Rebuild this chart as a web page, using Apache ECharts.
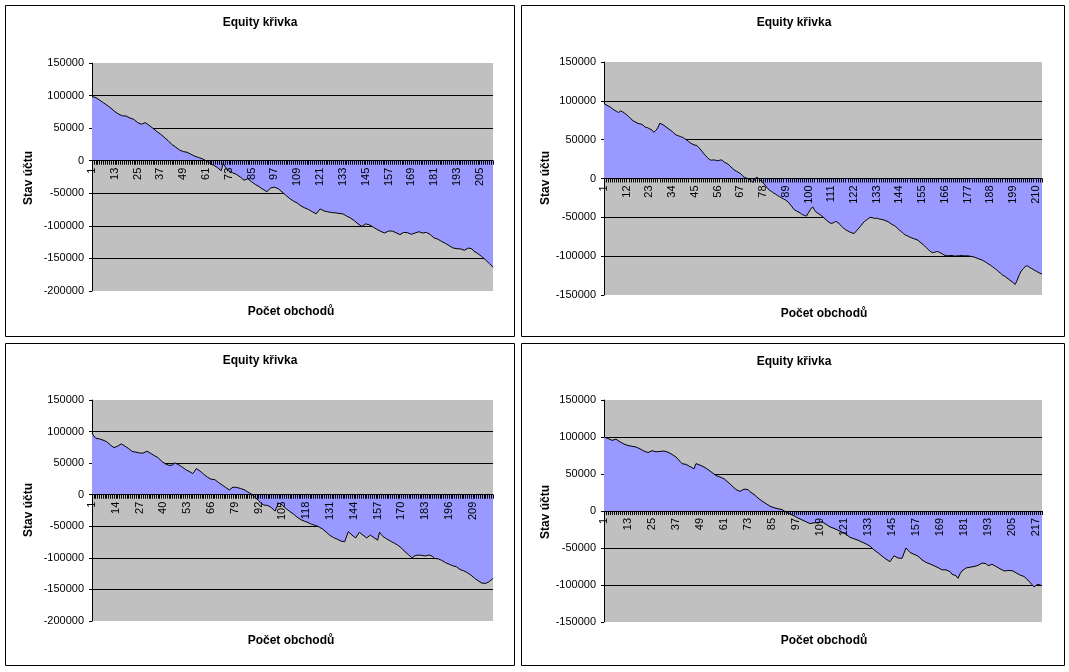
<!DOCTYPE html>
<html>
<head>
<meta charset="utf-8">
<script src="https://cdn.jsdelivr.net/npm/echarts@6/dist/echarts.min.js"></script>
<style>
html,body{margin:0;padding:0;background:#fff;}
#c{width:1069px;height:672px;}
</style>
</head>
<body>
<div id="c"></div>
<script>
const chartTitle = "Equity křivka";
const yTitle = "Stav účtu";
const xTitle = "Počet obchodů";

const equity1 = [
98500,97500,97000,95000,93000,91000,89000,87500,85000,83000,
80500,78000,75500,73500,71500,70000,69000,68000,68500,66500,
65500,64000,63500,61000,58500,55500,56000,57500,58500,57000,
54500,52000,50000,47500,45000,43500,41000,38500,36000,33500,
31000,28500,25000,22500,21000,18500,16500,15500,14000,15000,
13000,11500,10000,8500,7000,6000,5000,4000,3000,1500,
0,-2500,-4000,-5500,-7000,-8500,-10500,-13000,-15500,-4000,
-9000,-12500,-16000,-17500,-18500,-19500,-21000,-23000,-25000,-27500,
-30000,-29000,-27500,-30000,-32500,-34500,-36500,-38000,-40000,-42000,
-44000,-46000,-47500,-46500,-42000,-39000,-40500,-41000,-43000,-45500,
-48000,-50500,-53000,-55500,-58000,-60500,-62000,-63500,-65000,-67500,
-69500,-71000,-72500,-73500,-75000,-76500,-78500,-80000,-81500,-84000,
-74000,-76000,-77000,-77500,-78500,-78000,-79500,-79000,-80000,-80500,
-81000,-80500,-81500,-83000,-85000,-86500,-88000,-89500,-92000,-94500,
-97000,-99000,-101000,-102500,-97000,-95500,-98500,-100500,-102000,-104000,
-105500,-107000,-108500,-110000,-111000,-109500,-108000,-107000,-108000,-109000,
-110500,-112000,-113500,-112000,-110000,-109000,-110500,-112500,-113000,-112000,
-111000,-110000,-109000,-110500,-111000,-110500,-110000,-111000,-113500,-116000,
-118500,-119500,-120500,-122000,-124000,-125500,-127000,-128500,-130500,-132000,
-134000,-136000,-135000,-133500,-135500,-136500,-137500,-136000,-134000,-131500,
-135500,-139000,-141000,-142500,-144500,-147000,-149500,-152000,-155000,-157500,
-160500,-163500
];

const equity2 = [
96500,95000,93500,92000,90000,88000,86500,85000,87000,86000,
84000,82000,79500,77000,74500,73000,71500,70500,70000,68500,
66000,65500,64000,63000,59500,61500,65000,71000,70000,68500,
66500,64500,62500,60500,58000,56000,55000,54000,53000,51500,
49500,47500,45500,44000,43000,42500,39500,36500,33000,30000,
27000,24500,23500,24000,23500,23000,23500,24000,21500,20000,
18500,16000,13500,11000,9500,8000,6500,4000,1500,500,
-500,-2000,-5000,-1000,2000,-1000,-3000,-5500,-8500,-12000,
-15000,-16500,-18500,-20000,-22000,-23500,-25000,-26500,-28000,-30000,
-33000,-36500,-40000,-41500,-43000,-44500,-46500,-47500,-48500,-44000,
-39500,-36500,-41000,-44000,-45500,-47500,-49500,-52000,-54500,-56500,
-58000,-57000,-55500,-56000,-59000,-61500,-64000,-66000,-67500,-69000,
-70000,-71000,-68000,-65000,-62000,-58500,-55500,-53500,-51500,-50000,
-50500,-51500,-51000,-52000,-52500,-53000,-54000,-55000,-56500,-58500,
-60000,-61500,-64000,-66500,-68500,-71000,-73000,-74000,-75500,-76500,
-77500,-78500,-79500,-82000,-84000,-86500,-89000,-91500,-94000,-95500,
-95000,-94000,-94500,-96000,-97500,-99000,-99500,-99500,-99000,-99500,
-100000,-99500,-99500,-99000,-99500,-99500,-99500,-100000,-100500,-101000,
-102000,-103000,-104000,-105000,-106500,-108000,-110000,-111500,-113500,-115500,
-117500,-120000,-122000,-124500,-126000,-128000,-130000,-132000,-134000,-136500,
-131000,-124000,-119000,-116000,-113000,-112500,-114500,-116000,-117500,-119000,
-120500,-122000,-123000
];

const equity3 = [
97500,93000,89500,87500,88500,88000,86500,85500,84000,81500,
79000,76500,74500,73500,77000,80000,80500,79500,77000,75000,
73000,71000,68500,66500,67500,67000,66000,64000,66000,68500,
69000,67500,65500,63500,62000,60500,59000,56000,53000,50500,
49000,47500,46500,44000,47000,50500,49000,48000,47000,44500,
42000,40000,38500,37000,35500,33500,37000,41500,39500,37500,
35500,32500,30000,28000,26000,24500,23500,24000,22000,19500,
17500,15500,13500,11500,9500,7500,7000,12000,12000,11500,
11000,10000,9000,8000,6000,4500,3000,1000,-1000,-4000,
-6500,-9000,-13000,-16000,-16500,-16500,-17000,-18000,-20500,-22500,
-26000,-19000,-13000,-14500,-16500,-19500,-22000,-24500,-26500,-28500,
-30500,-33000,-35500,-37500,-39500,-41000,-42000,-42500,-44000,-45500,
-47000,-48000,-48500,-49500,-51000,-52500,-54500,-57000,-59500,-62000,
-64500,-66500,-68000,-69500,-70500,-72000,-73500,-75500,-74500,-73000,
-58500,-61500,-64000,-66000,-68500,-70000,-59500,-62000,-64000,-66500,
-68500,-65500,-64000,-66000,-68000,-70500,-72000,-59500,-63000,-66500,
-68000,-70000,-72000,-73500,-75000,-76500,-78000,-80000,-82500,-84500,
-87500,-90500,-93000,-95500,-98000,-100500,-97000,-94000,-95500,-96500,
-96000,-96500,-97000,-96500,-95500,-95000,-97500,-101000,-101500,-101500,
-102000,-104000,-106000,-107500,-108500,-110000,-111500,-112500,-113500,-114000,
-116000,-118500,-120000,-120500,-121500,-123500,-125500,-127500,-129500,-132500,
-134500,-136500,-138500,-140000,-142000,-140500,-139000,-137500,-135000,-132500
];

const equity4 = [
100000,99500,98000,96500,95500,97500,97000,95000,93500,92000,
90500,89500,88500,88000,87500,87000,86500,85000,84000,82500,
81000,80000,79000,80000,81500,82000,80000,78500,80500,81500,
81000,80500,79500,78500,76500,75000,73000,70000,67000,64000,
62500,63000,61500,60000,58000,57000,64000,63000,62000,61000,
59500,57500,56000,54000,52000,50000,48000,46500,46000,45000,
43500,41500,39000,36500,34000,31500,29000,27500,26500,28000,
29500,32000,29000,26000,24000,22500,20000,17500,15500,13500,
11500,10000,8500,6500,5000,4500,4000,3000,2500,2000,
500,-1500,-3000,-4000,-5000,-6500,-8000,-9500,-11000,-12000,
-13000,-14500,-16000,-17000,-17500,-16000,-15000,-15500,-16000,-14500,
-15500,-18000,-20000,-21500,-22500,-23500,-25000,-26000,-27000,-28500,
-30000,-31500,-33500,-35500,-36500,-37500,-38500,-39500,-40500,-42000,
-43500,-44500,-45500,-47500,-50000,-52500,-54500,-56500,-59000,-61000,
-63000,-65000,-67000,-68500,-69500,-60500,-62000,-63500,-65000,-64000,
-63000,-50000,-53000,-56000,-57500,-58500,-60000,-61000,-63500,-66000,
-68000,-69500,-70500,-71500,-73000,-74000,-75000,-76500,-78000,-79500,
-81000,-79500,-78500,-82000,-85500,-86500,-87500,-91000,-85000,-81000,
-78500,-77000,-76500,-76000,-75500,-75000,-74500,-73500,-72500,-70500,
-68500,-71000,-74000,-73000,-72000,-73500,-75000,-76500,-78000,-79500,
-81000,-82000,-80500,-80000,-80500,-81500,-83500,-85500,-86500,-87500,
-88500,-91000,-93500,-96500,-99500,-102500,-101000,-99000,-99500,-101000
];

const yRanges = [[-200000,150000],[-150000,150000],[-200000,150000],[-150000,150000]];
const labelSteps = [12, 11, 13, 12];

const layout = [
  {box:[5.5,5.5,509,331], grid:{left:92,top:63,width:401,height:228}, title:[260,23], yName:[29,178], xName:[291,312]},
  {box:[521.5,5.5,543,331], grid:{left:604,top:62,width:438,height:233}, title:[794,23], yName:[546,178], xName:[824,314]},
  {box:[5.5,343.5,509,322], grid:{left:92,top:400,width:401,height:221}, title:[260,361], yName:[29,510], xName:[291,641]},
  {box:[521.5,343.5,543,322], grid:{left:604,top:400,width:438,height:222}, title:[794,362], yName:[546,512], xName:[824,641]}
];

const seriesData = [equity1, equity2, equity3, equity4];
const FONT = '"Liberation Sans", Arial, sans-serif';

const grids = [], xAxes = [], yAxes = [], series = [], graphics = [];
seriesData.forEach((d, i) => {
  const L = layout[i];
  const cats = d.map((_, k) => String(k + 1));
  const [ymin, ymax] = yRanges[i];
  // distance from grid bottom up to the zero line, so the category axis sits on y = 0
  const zeroOffset = L.grid.height * (0 - ymin) / (ymax - ymin);
  grids.push(Object.assign({show:true, backgroundColor:'#C0C0C0', borderWidth:0, containLabel:false}, L.grid));
  xAxes.push({
    type:'category', gridIndex:i, data:cats, boundaryGap:false, z:5,
    position:'bottom', offset:-zeroOffset,
    axisLine:{onZero:false, lineStyle:{color:'#000', width:1}},
    axisTick:{show:true, interval:0, length:4, lineStyle:{color:'#000', width:1}},
    axisLabel:{interval:labelSteps[i]-1, rotate:90, margin:7, color:'#000', fontSize:11, fontFamily:FONT},
    splitLine:{show:false}
  });
  yAxes.push({
    type:'value', gridIndex:i, min:ymin, max:ymax, interval:50000,
    axisLine:{show:true, lineStyle:{color:'#000', width:1}},
    axisTick:{show:true, length:3, lineStyle:{color:'#000'}},
    axisLabel:{color:'#000', fontSize:11, fontFamily:FONT, margin:8, formatter:v => String(v)},
    splitLine:{show:true, showMinLine:false, showMaxLine:false, lineStyle:{color:'#000', width:1}}
  });
  series.push({
    type:'line', xAxisIndex:i, yAxisIndex:i, data:d, showSymbol:false, symbol:'none',
    lineStyle:{color:'#000', width:1}, areaStyle:{color:'#9999FF', opacity:1},
    animation:false, z:2
  });
  graphics.push({type:'rect', shape:{x:L.box[0], y:L.box[1], width:L.box[2], height:L.box[3]},
    style:{fill:null, stroke:'#000', lineWidth:1}, silent:true, z:10});
  graphics.push({type:'text', x:L.title[0], y:L.title[1],
    style:{text:chartTitle, fill:'#000', font:'bold 12px ' + FONT, textAlign:'center', textVerticalAlign:'middle'}, z:10});
  graphics.push({type:'text', x:L.xName[0], y:L.xName[1],
    style:{text:xTitle, fill:'#000', font:'bold 12px ' + FONT, textAlign:'center', textVerticalAlign:'middle'}, z:10});
  graphics.push({type:'text', x:L.yName[0], y:L.yName[1], rotation:Math.PI/2,
    style:{text:yTitle, fill:'#000', font:'bold 12px ' + FONT, textAlign:'center', textVerticalAlign:'middle'}, z:10});
});

const chart = echarts.init(document.getElementById('c'), null, {renderer:'canvas'});
chart.setOption({
  backgroundColor:'#fff',
  animation:false,
  grid:grids, xAxis:xAxes, yAxis:yAxes, series:series,
  graphic:{elements:graphics}
});
</script>
</body>
</html>
